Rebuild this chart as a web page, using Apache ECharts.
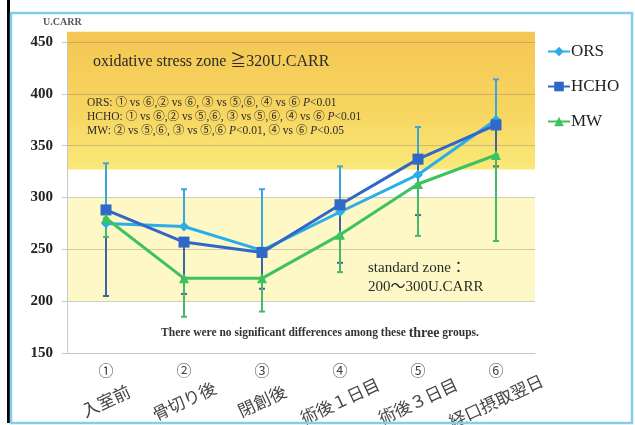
<!DOCTYPE html>
<html>
<head>
<meta charset="utf-8">
<script src="https://cdn.jsdelivr.net/npm/echarts@6/dist/echarts.min.js"></script>
<style>
html,body{margin:0;padding:0;background:#fff;}
#chart{width:635px;height:425px;}
</style>
</head>
<body>
<div id="chart"></div>
<script>
// ---- data ----
var circled = ['①','②','③','④','⑤','⑥'];
var categories = ['入室前','骨切り後','閉創後','術後１日目','術後３日目','経口摂取翌日'];
var yTicks = {min:150, max:450, step:50};
var orsMean  = [275, 272, 249, 286, 322, 375];
var orsHigh  = [333, 308, 308, 330, 368, 414];
var hchoMean = [288, 257, 247, 293, 337, 370];
var hchoLow  = [205, 207, 212, 237, 283, 330];
var mwMean   = [280, 222, 222, 264, 313, 341];
var mwLow    = [262, 185, 190, 228, 263, 258];
var oxidativeZone = [327, 460];
var standardZone  = [200, 300];

var serif = '"Liberation Serif","DejaVu Serif","Noto Sans CJK JP",serif';
var cOrs = '#2aaee8', cHcho = '#2f68c6', cMw = '#3ec25e';

function errData(a, b){ return a.map(function(v,i){ return [i, Math.min(v,b[i]), Math.max(v,b[i])]; }); }

function errRender(params, api){
  var lo = api.coord([api.value(0), api.value(1)]);
  var hi = api.coord([api.value(0), api.value(2)]);
  var w = 3;
  var st = {stroke: api.visual('color'), lineWidth: 2};
  return {type:'group', children:[
    {type:'line', shape:{x1:lo[0],y1:lo[1],x2:hi[0],y2:hi[1]}, style:st},
    {type:'line', shape:{x1:lo[0]-w,y1:lo[1],x2:lo[0]+w,y2:lo[1]}, style:st},
    {type:'line', shape:{x1:hi[0]-w,y1:hi[1],x2:hi[0]+w,y2:hi[1]}, style:st}
  ]};
}

function zoneRender(fill){
  return function(params, api){
    var cs = params.coordSys;
    var y1 = api.coord([0, api.value(2)])[1];
    var y0 = api.coord([0, api.value(1)])[1];
    return {type:'rect', shape:{x:cs.x, y:y1, width:cs.width, height:y0-y1}, style:{fill:fill}};
  };
}

var chart = echarts.init(document.getElementById('chart'));
chart.setOption({
  animation:false,
  backgroundColor:'#fff',
  grid:{left:67, right:100, top:42, bottom:72, containLabel:false, outerBoundsMode:'none'},
  legend:{
    orient:'vertical', left:547, top:43, padding:0, itemGap:18, itemWidth:22, itemHeight:12,
    textStyle:{fontFamily:serif, fontSize:17, color:'#222', padding:[0,0,0,-4]},
    data:['ORS','HCHO','MW']
  },
  xAxis:[{
    type:'category', data:circled, boundaryGap:true,
    axisLine:{lineStyle:{color:'#c8c8c8'}},
    axisTick:{alignWithLabel:true, length:5, lineStyle:{color:'#c8c8c8'}},
    axisLabel:{interval:0, margin:12, fontSize:15, color:'#444', fontFamily:serif}
  },{
    type:'category', data:categories, position:'bottom', boundaryGap:true,
    axisLine:{show:false}, axisTick:{show:false},
    axisLabel:{interval:0, rotate:25, align:'center', verticalAlign:'middle', margin:48,
      fontSize:17, color:'#444', fontFamily:'"Noto Sans CJK JP",sans-serif'}
  }],
  yAxis:{
    type:'value', min:yTicks.min, max:yTicks.max, interval:yTicks.step,
    axisLine:{show:true, lineStyle:{color:'#c8c8c8'}},
    axisTick:{show:true, length:5, lineStyle:{color:'#c8c8c8'}},
    splitLine:{lineStyle:{color:'rgba(110,110,110,0.32)', width:1}},
    axisLabel:{margin:14, fontSize:15, color:'#222', fontFamily:serif, fontWeight:'bold'}
  },
  series:[
    {type:'custom', name:'zone1', z:-1, clip:false, silent:true, data:[[0, oxidativeZone[0], oxidativeZone[1]]],
      renderItem:zoneRender({type:'linear',x:0,y:0,x2:0,y2:1,colorStops:[
        {offset:0,color:'#f5c653'},{offset:0.6,color:'#f7d662'},{offset:1,color:'#fae979'}]})},
    {type:'custom', name:'zone2', z:-1, clip:false, silent:true, data:[[0, standardZone[0], standardZone[1]]],
      renderItem:zoneRender('#fdf8c6')},
    {type:'custom', name:'ORSerr', z:2, data:errData(orsMean, orsHigh), renderItem:errRender, itemStyle:{color:'#3aa6dc'}},
    {type:'custom', name:'HCHOerr', z:2, data:errData(hchoMean, hchoLow), renderItem:errRender, itemStyle:{color:'#3a63a8'}},
    {type:'custom', name:'MWerr', z:2, data:errData(mwMean, mwLow), renderItem:errRender, itemStyle:{color:'#45b86a'}},
    {type:'line', name:'ORS', z:4, data:orsMean, color:cOrs, symbol:'diamond', symbolSize:10,
      lineStyle:{width:3}, itemStyle:{color:cOrs}},
    {type:'line', name:'HCHO', z:4, data:hchoMean, color:cHcho, symbol:'rect', symbolSize:11,
      lineStyle:{width:3}, itemStyle:{color:cHcho}},
    {type:'line', name:'MW', z:4, data:mwMean, color:cMw, symbol:'triangle', symbolSize:10,
      lineStyle:{width:3}, itemStyle:{color:cMw}}
  ],
  graphic:[
    {type:'rect', z:100, shape:{x:7, y:0, width:3, height:423}, style:{fill:'#000'}},
    {type:'rect', z:100, shape:{x:11, y:13, width:621, height:410}, style:{fill:null, stroke:'#84cdee', lineWidth:2.5}},
    {type:'text', z:100, x:43, y:22, style:{text:'U.CARR', font:'bold 10px '+serif, fill:'#555', verticalAlign:'middle'}},
    {type:'text', z:100, x:93, y:62, style:{text:'oxidative stress zone ≧320U.CARR', font:'16px '+serif, fill:'#2a2a2a', verticalAlign:'middle'}},
    {type:'text', z:100, x:87, y:103, style:{text:'{n|ORS: ① vs ⑥,② vs ⑥, ③ vs ⑤,⑥, ④ vs ⑥ }{i|P}{n|<0.01}',
      verticalAlign:'middle', rich:{n:{font:'11.5px '+serif, fill:'#2a2a2a'}, i:{font:'italic 11.5px '+serif, fill:'#2a2a2a'}}}},
    {type:'text', z:100, x:87, y:117, style:{text:'{n|HCHO: ① vs ⑥,② vs ⑤,⑥, ③ vs ⑤,⑥, ④ vs ⑥ }{i|P}{n|<0.01}',
      verticalAlign:'middle', rich:{n:{font:'11.5px '+serif, fill:'#2a2a2a'}, i:{font:'italic 11.5px '+serif, fill:'#2a2a2a'}}}},
    {type:'text', z:100, x:87, y:131, style:{text:'{n|MW: ② vs ⑤,⑥, ③ vs ⑤,⑥ }{i|P}{n|<0.01, ④ vs ⑥ }{i|P}{n|<0.05}',
      verticalAlign:'middle', rich:{n:{font:'11.5px '+serif, fill:'#2a2a2a'}, i:{font:'italic 11.5px '+serif, fill:'#2a2a2a'}}}},
    {type:'text', z:100, x:368, y:268, style:{text:'standard zone：', font:'15px '+serif, fill:'#2a2a2a', verticalAlign:'middle'}},
    {type:'text', z:100, x:368, y:287, style:{text:'200～300U.CARR', font:'15px '+serif, fill:'#2a2a2a', verticalAlign:'middle'}},
    {type:'text', z:100, x:320, y:333, style:{text:'{n|There were no significant differences among these }{b|three}{n| groups.}',
      align:'center', verticalAlign:'middle', rich:{n:{font:'bold 11.5px '+serif, fill:'#333'}, b:{font:'bold 14px '+serif, fill:'#333'}}}}
  ]
});
</script>
</body>
</html>
